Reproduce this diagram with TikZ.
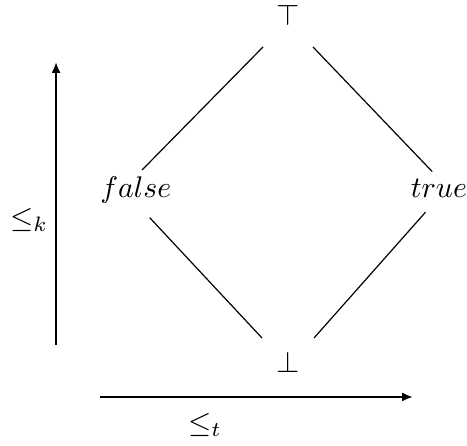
\documentclass[tikz,border=0pt]{standalone}
\usepackage{amsmath,amssymb}
\usepackage{tikz}
\usetikzlibrary{arrows.meta}

\begin{document}
\begin{tikzpicture}[
  el/.style={inner sep=0pt, outer sep=0pt},
  ln/.style={line width=0.4pt, black},
  ax/.style={-{Latex[length=3.6pt, width=3pt]}, line width=0.75pt, black},
  lab/.style={inner sep=0pt}]
\useasboundingbox (0,0) rectangle (5.5,5.2525);

\node[el, minimum width=5.89mm, minimum height=7.54mm] (t) at (3.392, 5.076) {$\top$};
\node[el, minimum width=6.12mm, minimum height=5.65mm] (b) at (3.392, 0.989) {$\bot$};
\node[el, anchor=base] (fa) at (1.600, 2.932) {$false$};
\node[el, anchor=base] (tr) at (5.170, 2.932) {$true$};

\draw[ln, shorten >=1.05mm] (t.south west) -- (fa.north);
\draw[ln, shorten >=1.15mm] (t.south east) -- (tr.north);
\draw[ln, shorten <=2.4mm] (fa.south) -- (b.north west);
\draw[ln, shorten <=2.4mm] (tr.south) -- (b.north east);

% the two orders
\coordinate (k0) at (0.660, 1.189);
\coordinate (k1) at (0.660, 4.522);
\coordinate (t0) at (1.178, 0.577);
\coordinate (t1) at (4.864, 0.577);
\draw[ax] (k0) -- (k1);
\draw[ax] (t0) -- (t1);
\node[lab] (lk) at (0.342, 2.66) {$\leq_k$};
\node[lab] (lt) at (2.414, 0.245) {$\leq_t$};
\end{tikzpicture}
\end{document}
